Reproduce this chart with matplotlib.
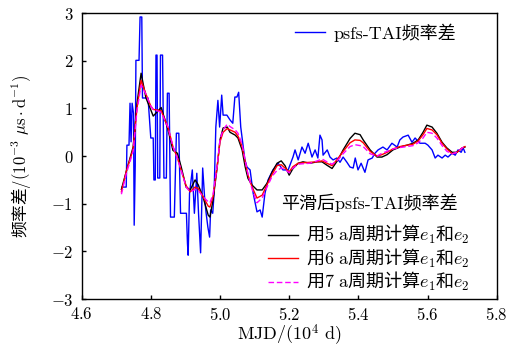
import matplotlib
matplotlib.use("Agg")
import matplotlib.pyplot as plt
from matplotlib.font_manager import FontProperties

plt.rcParams['font.family'] = ['cmr10', 'Noto Sans CJK SC', 'DejaVu Sans']
plt.rcParams['mathtext.fontset'] = 'cm'
plt.rcParams['axes.formatter.use_mathtext'] = True
plt.rcParams['axes.unicode_minus'] = True

# raw psfs-TAI frequency difference
raw_x = [4.717, 4.729, 4.731, 4.737, 4.740, 4.743, 4.746, 4.750, 4.752, 4.755, 4.757, 4.766,
         4.769, 4.774, 4.776, 4.792, 4.800, 4.807, 4.809, 4.813, 4.815, 4.818, 4.820, 4.826,
         4.828, 4.834, 4.838, 4.845, 4.848, 4.853, 4.857, 4.868, 4.874, 4.881, 4.886, 4.903,
         4.906, 4.908, 4.912, 4.920, 4.926, 4.933, 4.938, 4.944, 4.950, 4.956, 4.960, 4.965,
         4.970, 4.973, 4.979, 4.983, 4.988, 4.994, 4.999, 5.005, 5.009, 5.020, 5.029, 5.037,
         5.043, 5.049, 5.054, 5.060, 5.066, 5.072, 5.078, 5.087, 5.096, 5.107, 5.116, 5.122,
         5.130, 5.139, 5.153, 5.168, 5.182, 5.197, 5.211, 5.217, 5.226, 5.237, 5.246, 5.255,
         5.266, 5.275, 5.283, 5.289, 5.295, 5.298, 5.310, 5.318, 5.327, 5.338, 5.347, 5.356,
         5.367, 5.376, 5.385, 5.391, 5.399, 5.408, 5.419, 5.428, 5.440, 5.448, 5.457, 5.471,
         5.483, 5.497, 5.512, 5.520, 5.529, 5.544, 5.555, 5.564, 5.578, 5.593, 5.601, 5.613,
         5.622, 5.630, 5.642, 5.651, 5.659, 5.671, 5.680, 5.688, 5.697, 5.703, 5.708]
raw_y = [-0.65, -0.65, 0.23, 0.23, 1.11, 0.30, 1.11, 0.90, -1.45, -0.20, 2.01, 2.01,
         2.92, 2.92, 1.22, 1.22, 0.38, 0.38, -0.50, -0.50, 2.12, 2.12, -0.46, -0.46,
         2.12, 2.12, -0.46, -0.46, 1.32, 1.32, -1.28, -1.28, 0.48, 0.48, -1.20, -1.20,
         -1.83, -2.08, -0.78, -0.29, -1.20, -0.36, -1.20, -2.03, -0.25, -0.92, -1.20, -1.49,
         -1.70, -1.13, -1.20, -0.78, 0.61, 1.17, 0.61, 1.28, 0.86, 0.86, 0.76, 0.69,
         1.24, 1.24, 1.34, 0.61, 0.27, -0.08, -0.23, -0.29, -0.78, -1.17, -1.13, -1.28,
         -0.78, -0.50, -0.29, -0.15, -0.29, -0.29, -0.02, 0.13, -0.08, 0.19, 0.06, 0.27,
         -0.02, 0.13, -0.04, 0.44, 0.34, 0.02, 0.13, -0.02, -0.08, -0.04, -0.13, -0.02,
         -0.13, -0.23, -0.25, -0.04, -0.29, -0.15, -0.34, -0.08, -0.04, 0.06, 0.13, 0.19,
         0.13, 0.27, 0.19, 0.34, 0.40, 0.44, 0.29, 0.38, 0.27, 0.27, 0.23, 0.13,
         -0.04, 0.02, -0.04, 0.02, -0.02, 0.06, 0.02, 0.13, 0.08, 0.17, 0.08]

# smoothed series
sm_x = [4.715, 4.730, 4.749, 4.760, 4.772, 4.786, 4.800, 4.807, 4.830, 4.850, 4.864, 4.877,
        4.888, 4.902, 4.914, 4.928, 4.937, 4.951, 4.966, 4.971, 4.980, 4.992, 5.000, 5.009,
        5.021, 5.029, 5.044, 5.052, 5.064, 5.073, 5.081, 5.093, 5.107, 5.122, 5.136, 5.151,
        5.165, 5.177, 5.188, 5.200, 5.211, 5.226, 5.240, 5.260, 5.281, 5.295, 5.309, 5.324,
        5.341, 5.356, 5.376, 5.390, 5.405, 5.414, 5.434, 5.454, 5.468, 5.483, 5.500, 5.520,
        5.541, 5.558, 5.573, 5.587, 5.598, 5.613, 5.627, 5.642, 5.656, 5.671, 5.685, 5.700,
        5.708]
smooth5 = [-0.70, -0.30, 0.19, 1.10, 1.74, 1.22, 0.97, 0.84, 1.02, 0.55, 0.12, 0.06,
           -0.23, -0.65, -0.71, -0.50, -0.60, -0.86, -1.24, -1.28, -0.92, -0.23, 0.34, 0.59,
           0.61, 0.50, 0.44, 0.38, 0.13, -0.23, -0.47, -0.61, -0.71, -0.71, -0.57, -0.33,
           -0.15, -0.10, -0.20, -0.40, -0.26, -0.15, -0.12, -0.15, -0.12, -0.12, -0.19, -0.26,
           -0.08, 0.13, 0.37, 0.48, 0.45, 0.34, 0.13, -0.02, -0.02, 0.03, 0.13, 0.19,
           0.23, 0.27, 0.34, 0.50, 0.65, 0.61, 0.48, 0.29, 0.17, 0.08, 0.08, 0.17,
           0.19]
smooth6 = [-0.75, -0.30, 0.15, 1.00, 1.59, 1.30, 1.05, 0.98, 0.95, 0.60, 0.20, -0.04,
           -0.30, -0.62, -0.75, -0.65, -0.68, -0.85, -1.05, -1.07, -0.85, -0.20, 0.30, 0.50,
           0.58, 0.55, 0.50, 0.42, 0.20, -0.12, -0.40, -0.65, -0.88, -0.82, -0.60, -0.38,
           -0.20, -0.18, -0.25, -0.33, -0.22, -0.15, -0.14, -0.13, -0.12, -0.10, -0.15, -0.20,
           -0.05, 0.10, 0.28, 0.34, 0.33, 0.28, 0.10, 0.00, 0.03, 0.08, 0.15, 0.20,
           0.23, 0.25, 0.32, 0.45, 0.58, 0.55, 0.45, 0.27, 0.15, 0.05, 0.08, 0.17,
           0.20]
smooth7 = [-0.80, -0.35, 0.10, 0.95, 1.49, 1.30, 1.05, 0.98, 0.92, 0.60, 0.20, -0.05,
           -0.30, -0.65, -0.75, -0.70, -0.72, -0.85, -0.96, -0.98, -0.80, -0.20, 0.35, 0.55,
           0.67, 0.62, 0.55, 0.48, 0.25, -0.10, -0.38, -0.70, -0.98, -0.88, -0.65, -0.42,
           -0.30, -0.25, -0.28, -0.35, -0.25, -0.17, -0.16, -0.15, -0.10, -0.06, -0.12, -0.17,
           -0.08, 0.05, 0.20, 0.24, 0.22, 0.20, 0.05, 0.00, 0.06, 0.10, 0.15, 0.18,
           0.20, 0.22, 0.28, 0.38, 0.50, 0.48, 0.38, 0.22, 0.10, 0.05, 0.08, 0.17,
           0.20]

xticks = [4.6, 4.8, 5.0, 5.2, 5.4, 5.6, 5.8]
yticks = [-3, -2, -1, 0, 1, 2, 3]

raw_label = 'psfs-TAI频率差'
smooth_title = '平滑后psfs-TAI频率差'
smooth_labels = [r'用$\mathrm{5\ a}$周期计算$e_1$和$e_2$',
                 r'用$\mathrm{6\ a}$周期计算$e_1$和$e_2$',
                 r'用$\mathrm{7\ a}$周期计算$e_1$和$e_2$']

fig = plt.figure(figsize=(5.10, 3.56), dpi=100)
ax = fig.add_axes([0.160, 0.160, 0.814, 0.803])

l_raw, = ax.plot(raw_x, raw_y, color='#0000ff', lw=1.0)
l5, = ax.plot(sm_x, smooth5, color='black', lw=1.0)
l6, = ax.plot(sm_x, smooth6, color='red', lw=1.0)
l7, = ax.plot(sm_x, smooth7, color='magenta', lw=1.0, ls=(0, (4, 2)))

ax.set_xlim(4.6, 5.8)
ax.set_ylim(-3, 3)
ax.set_xticks(xticks)
ax.set_yticks(yticks)
ax.set_xticklabels([f'${v:.1f}$' for v in xticks])
ax.set_yticklabels([f'${v}$' if v >= 0 else f'$-{-v}$' for v in yticks])
ax.tick_params(direction='in', length=3.2, width=1, labelsize=12, top=False, right=False)
ax.tick_params(axis='x', pad=5)
ax.tick_params(axis='y', pad=6)
for s in ax.spines.values():
    s.set_linewidth(1.0)

ax.set_xlabel('MJD/($10^4$ d)', fontsize=13)
ax.xaxis.set_label_coords(0.5, -0.083)
ax.set_ylabel(r'频率差$\mathrm{/(10^{-3}\ \mu s\cdot d^{-1})}$', fontsize=12,
              family='Noto Sans CJK SC')
ax.yaxis.set_label_coords(-0.118, 0.5)

fs = 13
leg1 = ax.legend([l_raw], [raw_label], loc='upper left', bbox_to_anchor=(0.497, 0.99),
                 frameon=False, prop=FontProperties(family=['cmr10', 'Noto Sans CJK SC'], size=fs),
                 handlelength=1.67, handletextpad=0.45, borderaxespad=0.0)
ax.add_artist(leg1)
leg2 = ax.legend([l5, l6, l7], smooth_labels,
                 title=smooth_title,
                 title_fontproperties=FontProperties(family=['cmr10', 'Noto Sans CJK SC'], size=fs),
                 loc='upper left', bbox_to_anchor=(0.432, 0.395), frameon=False,
                 prop=FontProperties(family='Noto Sans CJK SC', size=fs),
                 handlelength=1.67, handletextpad=0.45, labelspacing=0.03, borderaxespad=0.0)
leg2._legend_box.sep = 8.0

fig.savefig('out.png', dpi=100)
